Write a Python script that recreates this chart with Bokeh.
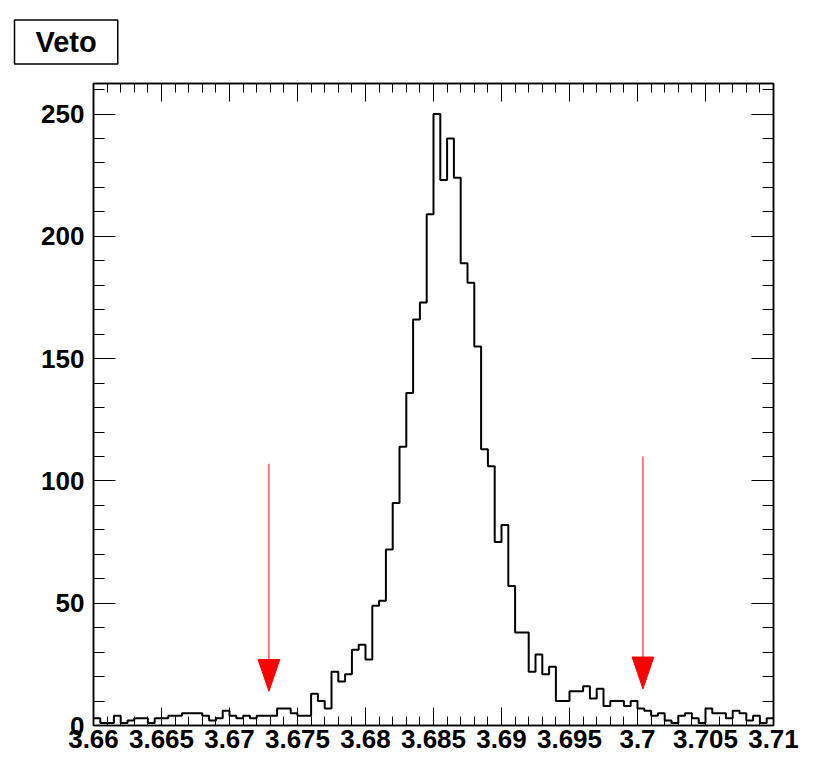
import numpy as np
from bokeh.plotting import figure
from bokeh.models import Range1d, LinearAxis, FixedTicker, ColumnDataSource, Title
from bokeh.embed import file_html
from bokeh.resources import INLINE

# ---------------- data ----------------
bin_lo = 3.66
bin_hi = 3.71
n_bins = 100
counts = [3, 1, 1, 4, 1, 2, 3, 3, 1, 3,
          3, 4, 4, 5, 5, 5, 4, 2, 3, 6,
          4, 3, 4, 3, 4, 4, 4, 7, 7, 5,
          4, 4, 13, 10, 7, 22, 18, 21, 31, 33,
          27, 49, 51, 72, 91, 114, 136, 166, 173, 209,
          250, 223, 240, 224, 189, 181, 155, 113, 106, 75,
          82, 57, 38, 38, 22, 29, 21, 24, 10, 10,
          14, 14, 16, 11, 15, 8, 10, 10, 8, 10,
          7, 6, 4, 5, 2, 1, 4, 5, 3, 1,
          7, 5, 5, 3, 6, 5, 2, 4, 1, 3]

x_ticks = [3.66, 3.665, 3.67, 3.675, 3.68, 3.685, 3.69, 3.695, 3.7, 3.705, 3.71]
x_tick_labels = ["3.66", "3.665", "3.67", "3.675", "3.68", "3.685", "3.69",
                 "3.695", "3.7", "3.705", "3.71"]
y_ticks = [0, 50, 100, 150, 200, 250]
y_tick_labels = ["0", "50", "100", "150", "200", "250"]

arrow_x = [3.6729, 3.7004]
arrow_top = [107, 110]
arrow_tip = [14, 15]

title_text = "Veto"

# ---------------- derived ----------------
edges = np.linspace(bin_lo, bin_hi, n_bins + 1)
step_y = counts + [counts[-1]]
y_max = 1.05 * max(counts)
x_minor = list(np.round(np.arange(bin_lo, bin_hi + 1e-9, 0.001), 4))
y_minor = list(range(0, int(y_max) + 1, 10))

FONT = "Liberation Sans"

title = Title(text=title_text, align="left", vertical_align="top",
              offset=-79, standoff=35,
              text_font=FONT, text_font_style="bold", text_font_size="29px",
              text_color="black", background_fill_color="white",
              border_line_color="black", border_line_width=1.5,
              padding=(21, 6))

p = figure(width=808, height=759, title=title,
           x_range=Range1d(bin_lo, bin_hi), y_range=Range1d(0, y_max),
           output_backend="svg", toolbar_location=None,
           min_border_left=93, min_border_right=35,
           min_border_top=83, min_border_bottom=34,
           background_fill_color="white", border_fill_color="white")
p.grid.visible = False
p.outline_line_color = "black"
p.outline_line_width = 1.5

# histogram outline
p.step(x=edges, y=step_y, mode="after", line_color="black", line_width=2)

# arrows
head_half_w = 0.0008
head_len = 13
src = ColumnDataSource(dict(
    x=arrow_x, top=arrow_top, tip=arrow_tip,
    base=[t + head_len for t in arrow_tip]))
p.segment(x0="x", y0="top", x1="x", y1="base", source=src,
          line_color="red", line_width=1)
p.patches(xs=[[x - head_half_w, x + head_half_w, x] for x in arrow_x],
          ys=[[t + head_len, t + head_len, t] for t in arrow_tip],
          fill_color="red", line_color="red", line_width=1)

# axes
xt = FixedTicker(ticks=x_ticks, minor_ticks=x_minor)
yt = FixedTicker(ticks=y_ticks, minor_ticks=y_minor)

def style_axis(ax, major_in, minor_in, show_labels):
    ax.axis_line_color = "black"
    ax.axis_line_width = 1.5
    ax.major_tick_line_color = "black"
    ax.minor_tick_line_color = "black"
    ax.major_tick_line_width = 1
    ax.minor_tick_line_width = 1
    ax.major_tick_out = 0
    ax.minor_tick_out = 0
    ax.major_tick_in = major_in
    ax.minor_tick_in = minor_in
    ax.major_label_text_font = FONT
    ax.major_label_text_font_style = "bold"
    if show_labels:
        ax.major_label_text_color = "black"
        ax.major_label_text_font_size = "26px"
    else:
        ax.major_label_text_color = None
        ax.major_label_text_font_size = "1px"
        ax.major_label_standoff = 0

xa = p.xaxis[0]
xa.ticker = xt
xa.major_label_overrides = dict(zip(x_ticks, x_tick_labels))
style_axis(xa, 18, 9, True)
xa.major_label_standoff = 4

ya = p.yaxis[0]
ya.ticker = yt
ya.major_label_overrides = dict(zip([float(v) for v in y_ticks], y_tick_labels))
style_axis(ya, 22, 11, True)
ya.major_label_standoff = 9

top_ax = LinearAxis(ticker=xt)
style_axis(top_ax, 18, 9, False)
p.add_layout(top_ax, "above")
right_ax = LinearAxis(ticker=yt)
style_axis(right_ax, 22, 11, False)
p.add_layout(right_ax, "right")

open("out.html", "w").write(file_html(p, INLINE))
